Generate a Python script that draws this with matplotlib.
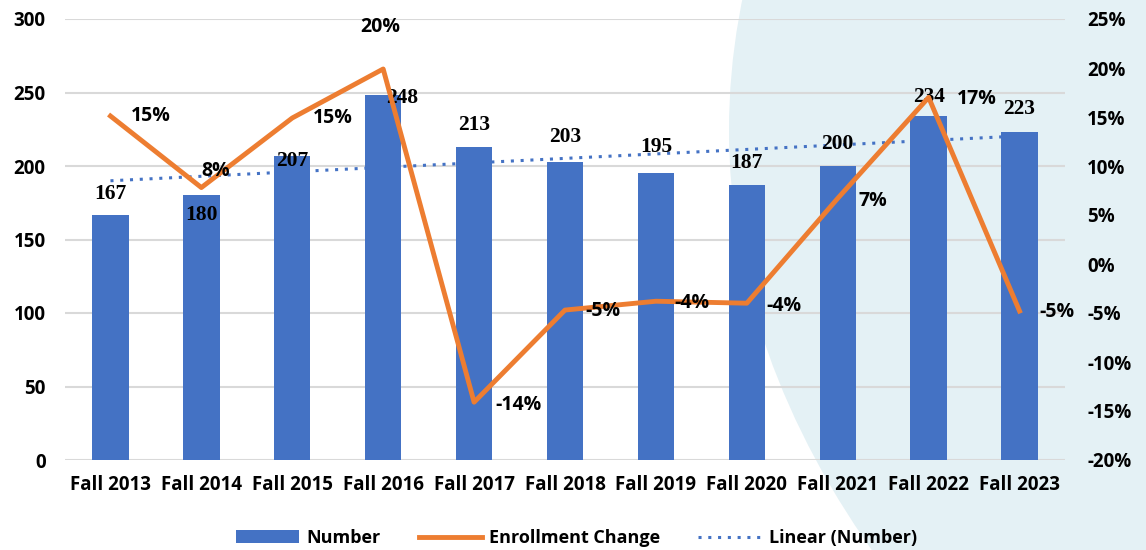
import numpy as np
import matplotlib
matplotlib.use('Agg')
import matplotlib.pyplot as plt
from matplotlib.patches import Ellipse
from matplotlib.ticker import FuncFormatter

terms = ['Fall 2013', 'Fall 2014', 'Fall 2015', 'Fall 2016', 'Fall 2017', 'Fall 2018',
         'Fall 2019', 'Fall 2020', 'Fall 2021', 'Fall 2022', 'Fall 2023']
number = [167, 180, 207, 248, 213, 203, 195, 187, 200, 234, 223]
change = [15.1, 7.8, 14.9, 19.9, -14.1, -4.7, -3.8, -4.0, 6.7, 17.0, -4.8]
change_labels = ['15%', '8%', '15%', '20%', '-14%', '-5%', '-4%', '-4%', '7%', '17%', '-5%']

# label offsets (points) relative to the mark, as placed in the original
bar_off = [(0, 15), (0, -14), (0, -4), (14, -2), (0, 16), (0, 18), (0, 19), (0, 16), (0, 16), (0, 14), (0, 17)]
pct_off = [(29, 0), (10, 12), (29, 0), (-2, 30), (32, -2), (27, -1), (26, -1), (27, -2), (25, -2), (35, -1), (27, -1)]

BLUE = '#4472C4'
ORANGE = '#ED7D31'
sans = ['Open Sans', 'DejaVu Sans']
serif = ['Liberation Serif', 'DejaVu Serif']
FS = 13.5

fig = plt.figure(figsize=(11.46, 5.5), dpi=100)
# decorative background shape (large ellipse coming in from the right)
fig.patches.append(Ellipse((27.29, 4.2), 40, 22.64, transform=fig.dpi_scale_trans,
                           facecolor='#E4F1F5', edgecolor='none', zorder=-5))

ax = fig.add_axes([65 / 1146, 90 / 550, 1000 / 1146, 441 / 550])
ax.patch.set_alpha(0)
x = np.arange(len(terms))

bars = ax.bar(x, number, width=0.4, color=BLUE, zorder=2, label='Number')
coef = np.polyfit(x, number, 1)
trend, = ax.plot(x, np.polyval(coef, x), linestyle=(0, (1, 2.2)), color=BLUE, lw=2.2,
                 zorder=3, label='Linear (Number)')

ax.set_xlim(-0.5, 10.5)
ax.set_ylim(0, 300)
ax.set_yticks(range(0, 301, 50))
ax.yaxis.grid(True, color='#D9D9D9', lw=1.5)
ax.set_axisbelow(True)
for s in ax.spines.values():
    s.set_visible(False)
ax.tick_params(length=0)
ax.set_xticks(x)
ax.set_xticklabels(terms)
for lab in ax.get_xticklabels() + ax.get_yticklabels():
    lab.set_fontfamily(sans)
    lab.set_fontweight('bold')
    lab.set_fontsize(FS)
ax.tick_params(axis='x', pad=11)
ax.tick_params(axis='y', pad=14)

for xi, v, off in zip(x, number, bar_off):
    ax.annotate(str(v), (xi, v), xytext=off, textcoords='offset points',
                ha='center', va='center', fontsize=15.5, fontweight='bold',
                family=serif, zorder=6)

ax2 = ax.twinx()
ax2.patch.set_alpha(0)
ax2.set_ylim(-20, 25)
ax2.set_yticks(range(-20, 26, 5))
ax2.yaxis.set_major_formatter(FuncFormatter(lambda v, p: f'{v:.0f}%'))
for s in ax2.spines.values():
    s.set_visible(False)
ax2.tick_params(length=0, pad=16)
for lab in ax2.get_yticklabels():
    lab.set_fontfamily(sans)
    lab.set_fontweight('bold')
    lab.set_fontsize(FS)

line, = ax2.plot(x, change, color=ORANGE, lw=3.5, zorder=4, label='Enrollment Change')
for xi, v, t, off in zip(x, change, change_labels, pct_off):
    ax2.annotate(t, (xi, v), xytext=off, textcoords='offset points',
                 ha='center', va='center', fontsize=14, fontweight='bold',
                 family=sans, zorder=6)

leg = fig.legend([bars, line, trend], ['Number', 'Enrollment Change', 'Linear (Number)'],
                 loc='center', bbox_to_anchor=(0.503, 0.022), ncol=3, frameon=False,
                 prop={'family': sans, 'weight': 'bold', 'size': 13},
                 handlelength=3.5, columnspacing=2.1, handletextpad=0.4)

plt.savefig('out.png', dpi=100)
plt.close(fig)
